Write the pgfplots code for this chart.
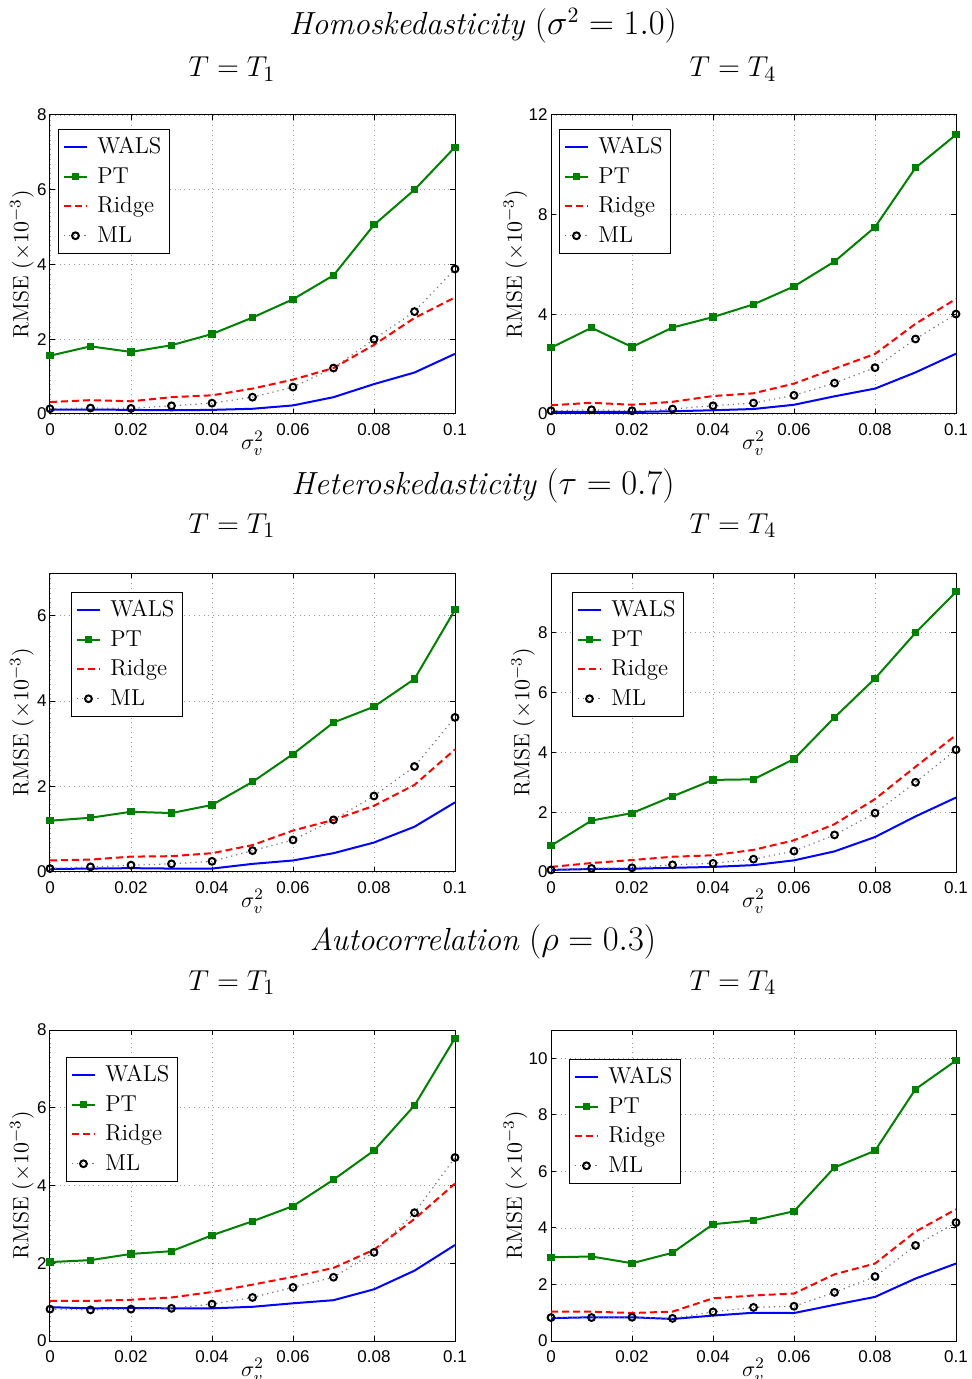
\documentclass[border=0pt]{standalone}
\usepackage{fontspec}
\usepackage{pgfplots}
\pgfplotsset{compat=1.18}
\newfontfamily\helv{Liberation Sans}
\definecolor{mgreen}{rgb}{0,0.5,0}

\pgfplotsset{
  panel/.style={
    scale only axis, width=202.5pt, anchor=north west,
    xmin=0, xmax=0.1, ymin=0, clip=false,
    xtick={0,0.02,0.04,0.06,0.08,0.1},
    xticklabels={0,0.02,0.04,0.06,0.08,0.1},
    scaled x ticks=false,
    grid=major, grid style={dotted, gray!80, line width=0.4pt},
    axis line style={line width=0.5pt},
    tick align=inside, major tick length=2.5pt,
    tick style={black, line width=0.5pt},
    /pgf/number format/assume math mode=true,
    tick label style={font=\helv\fontsize{8.5}{10}\selectfont},
    yticklabel style={inner sep=0pt, anchor=east, xshift=-1.5pt},
    xticklabel style={inner sep=0pt, anchor=north, yshift=-4.5pt},
    xlabel={$\sigma_v^2$},
    xlabel style={at={(axis description cs:0.5,0)}, anchor=north, inner sep=0pt, yshift=-8.5pt,
                  font=\fontsize{11}{13}\selectfont},
    ylabel={RMSE $(\times 10^{-3})$},
    ylabel style={anchor=center, inner sep=0pt, font=\fontsize{11}{13}\selectfont},
    legend cell align=left,
    legend style={at={(rel axis cs:0,1)}, anchor=north west, xshift=4pt, yshift=-7pt,
                  draw=black, line width=0.5pt, fill=white,
                  font=\fontsize{11.5}{13.8}\selectfont,
                  inner xsep=2pt, inner ysep=2pt, row sep=1.3pt, column sep=2.5pt},
    legend image code/.code={\draw[mark repeat=2,mark phase=2] plot coordinates {(0cm,0cm) (0.21cm,0cm) (0.42cm,0cm)};},
  },
  ylab1/.style={ylabel style={at={(axis description cs:-0.069,0.5)}}},
  ylab2/.style={ylabel style={at={(axis description cs:-0.0877,0.5)}}},
  wals/.style={blue, line width=1pt},
  pt/.style={mgreen, line width=1pt, mark=square*, mark size=1.3pt, mark options={solid}},
  ridge/.style={red, line width=1pt, dash pattern=on 3.5pt off 2pt},
  ml/.style={black!55, dotted, line width=0.6pt, mark=o, mark size=1.7pt, mark options={solid, draw=black, line width=1pt}},
}

\begin{document}
\begin{tikzpicture}
\path[use as bounding box] (0,0) rectangle (485.5pt,-689.5pt);

% ---------- titles
\node[anchor=base, font=\fontsize{16}{19}\selectfont] at (241.5pt,-17.5pt) {\textit{Homoskedasticity} $(\sigma^2 = 1.0)$};
\node[anchor=base, font=\fontsize{15.5}{19}\selectfont] at (116pt,-38.5pt) {$T = T_1$};
\node[anchor=base, font=\fontsize{15.5}{19}\selectfont] at (366.5pt,-38.5pt) {$T = T_4$};
\node[anchor=base, font=\fontsize{16}{19}\selectfont] at (241.5pt,-247pt) {\textit{Heteroskedasticity} $(\tau = 0.7)$};
\node[anchor=base, font=\fontsize{15.5}{19}\selectfont] at (116pt,-266.5pt) {$T = T_1$};
\node[anchor=base, font=\fontsize{15.5}{19}\selectfont] at (366.5pt,-266.5pt) {$T = T_4$};
\node[anchor=base, font=\fontsize{16}{19}\selectfont] at (241.5pt,-475pt) {\textit{Autocorrelation} $(\rho = 0.3)$};
\node[anchor=base, font=\fontsize{15.5}{19}\selectfont] at (116pt,-495pt) {$T = T_1$};
\node[anchor=base, font=\fontsize{15.5}{19}\selectfont] at (366.5pt,-495pt) {$T = T_4$};

% ---------- row 1
\begin{axis}[panel, ylab1, at={(25pt,-57.5pt)}, height=149.5pt, ymax=8, ytick={0,2,4,6,8}]
\addplot[wals] coordinates {(0,0.12)(0.01,0.12)(0.02,0.11)(0.03,0.10)(0.04,0.11)(0.05,0.14)(0.06,0.23)(0.07,0.45)(0.08,0.80)(0.09,1.11)(0.1,1.61)};
\addplot[pt] coordinates {(0,1.56)(0.01,1.81)(0.02,1.66)(0.03,1.84)(0.04,2.14)(0.05,2.58)(0.06,3.07)(0.07,3.71)(0.08,5.06)(0.09,6.00)(0.1,7.14)};
\addplot[ridge] coordinates {(0,0.32)(0.01,0.37)(0.02,0.34)(0.03,0.45)(0.04,0.50)(0.05,0.68)(0.06,0.92)(0.07,1.23)(0.08,1.85)(0.09,2.57)(0.1,3.12)};
\addplot[ml] coordinates {(0,0.14)(0.01,0.16)(0.02,0.15)(0.03,0.22)(0.04,0.29)(0.05,0.45)(0.06,0.72)(0.07,1.23)(0.08,2.00)(0.09,2.74)(0.1,3.88)};
\legend{WALS,PT,Ridge,ML}
\end{axis}

\begin{axis}[panel, ylab2, at={(275.5pt,-57.5pt)}, height=149.5pt, ymax=12, ytick={0,4,8,12}]
\addplot[wals] coordinates {(0,0.08)(0.01,0.09)(0.02,0.08)(0.03,0.11)(0.04,0.15)(0.05,0.20)(0.06,0.37)(0.07,0.71)(0.08,1.02)(0.09,1.67)(0.1,2.42)};
\addplot[pt] coordinates {(0,2.66)(0.01,3.46)(0.02,2.69)(0.03,3.47)(0.04,3.89)(0.05,4.40)(0.06,5.12)(0.07,6.12)(0.08,7.50)(0.09,9.88)(0.1,11.21)};
\addplot[ridge] coordinates {(0,0.35)(0.01,0.45)(0.02,0.37)(0.03,0.49)(0.04,0.72)(0.05,0.83)(0.06,1.22)(0.07,1.82)(0.08,2.41)(0.09,3.62)(0.1,4.62)};
\addplot[ml] coordinates {(0,0.13)(0.01,0.17)(0.02,0.13)(0.03,0.20)(0.04,0.33)(0.05,0.44)(0.06,0.75)(0.07,1.24)(0.08,1.86)(0.09,3.01)(0.1,4.01)};
\legend{WALS,PT,Ridge,ML}
\end{axis}

% ---------- row 2
\begin{axis}[panel, ylab1, at={(25pt,-286.5pt)}, height=149.5pt, ymax=7, ytick={0,2,4,6}, legend style={xshift=6.5pt, yshift=-2.5pt}]
\addplot[wals] coordinates {(0,0.07)(0.01,0.08)(0.02,0.09)(0.03,0.08)(0.04,0.08)(0.05,0.19)(0.06,0.27)(0.07,0.44)(0.08,0.69)(0.09,1.06)(0.1,1.63)};
\addplot[pt] coordinates {(0,1.20)(0.01,1.27)(0.02,1.41)(0.03,1.38)(0.04,1.57)(0.05,2.11)(0.06,2.76)(0.07,3.50)(0.08,3.87)(0.09,4.52)(0.1,6.14)};
\addplot[ridge] coordinates {(0,0.27)(0.01,0.29)(0.02,0.36)(0.03,0.37)(0.04,0.44)(0.05,0.63)(0.06,0.97)(0.07,1.22)(0.08,1.55)(0.09,2.04)(0.1,2.87)};
\addplot[ml] coordinates {(0,0.08)(0.01,0.12)(0.02,0.16)(0.03,0.19)(0.04,0.25)(0.05,0.50)(0.06,0.75)(0.07,1.22)(0.08,1.78)(0.09,2.47)(0.1,3.62)};
\legend{WALS,PT,Ridge,ML}
\end{axis}

\begin{axis}[panel, ylab1, at={(275.5pt,-286.5pt)}, height=149.5pt, ymax=10, ytick={0,2,4,6,8}, legend style={xshift=6.5pt, yshift=-2.5pt}]
\addplot[wals] coordinates {(0,0.07)(0.01,0.10)(0.02,0.11)(0.03,0.14)(0.04,0.17)(0.05,0.23)(0.06,0.39)(0.07,0.69)(0.08,1.17)(0.09,1.86)(0.1,2.49)};
\addplot[pt] coordinates {(0,0.88)(0.01,1.72)(0.02,1.97)(0.03,2.53)(0.04,3.08)(0.05,3.10)(0.06,3.78)(0.07,5.17)(0.08,6.47)(0.09,8.00)(0.1,9.37)};
\addplot[ridge] coordinates {(0,0.17)(0.01,0.30)(0.02,0.40)(0.03,0.51)(0.04,0.56)(0.05,0.74)(0.06,1.06)(0.07,1.60)(0.08,2.44)(0.09,3.52)(0.1,4.58)};
\addplot[ml] coordinates {(0,0.07)(0.01,0.12)(0.02,0.14)(0.03,0.24)(0.04,0.29)(0.05,0.43)(0.06,0.70)(0.07,1.24)(0.08,1.97)(0.09,3.00)(0.1,4.09)};
\legend{WALS,PT,Ridge,ML}
\end{axis}

% ---------- row 3
\begin{axis}[panel, ylab1, at={(25pt,-515pt)}, height=155.5pt, ymax=8, ytick={0,2,4,6,8}, legend style={xshift=4pt, yshift=-6.5pt}]
\addplot[wals] coordinates {(0,0.87)(0.01,0.84)(0.02,0.85)(0.03,0.84)(0.04,0.84)(0.05,0.88)(0.06,0.97)(0.07,1.05)(0.08,1.33)(0.09,1.81)(0.1,2.47)};
\addplot[pt] coordinates {(0,2.03)(0.01,2.08)(0.02,2.24)(0.03,2.31)(0.04,2.72)(0.05,3.08)(0.06,3.47)(0.07,4.15)(0.08,4.90)(0.09,6.06)(0.1,7.79)};
\addplot[ridge] coordinates {(0,1.03)(0.01,1.03)(0.02,1.06)(0.03,1.12)(0.04,1.26)(0.05,1.45)(0.06,1.65)(0.07,1.88)(0.08,2.35)(0.09,3.14)(0.1,4.05)};
\addplot[ml] coordinates {(0,0.82)(0.01,0.80)(0.02,0.82)(0.03,0.84)(0.04,0.95)(0.05,1.12)(0.06,1.38)(0.07,1.64)(0.08,2.28)(0.09,3.30)(0.1,4.72)};
\legend{WALS,PT,Ridge,ML}
\end{axis}

\begin{axis}[panel, ylab2, at={(275.5pt,-515pt)}, height=155.5pt, ymax=11, ytick={0,2,4,6,8,10}, legend style={xshift=5pt, yshift=-7.5pt}]
\addplot[wals] coordinates {(0,0.81)(0.01,0.84)(0.02,0.84)(0.03,0.78)(0.04,0.90)(0.05,1.00)(0.06,0.99)(0.07,1.28)(0.08,1.56)(0.09,2.21)(0.1,2.74)};
\addplot[pt] coordinates {(0,2.96)(0.01,2.99)(0.02,2.75)(0.03,3.12)(0.04,4.13)(0.05,4.27)(0.06,4.59)(0.07,6.14)(0.08,6.73)(0.09,8.91)(0.1,9.92)};
\addplot[ridge] coordinates {(0,1.04)(0.01,1.04)(0.02,0.99)(0.03,1.04)(0.04,1.51)(0.05,1.61)(0.06,1.68)(0.07,2.36)(0.08,2.74)(0.09,3.87)(0.1,4.66)};
\addplot[ml] coordinates {(0,0.83)(0.01,0.83)(0.02,0.84)(0.03,0.80)(0.04,1.03)(0.05,1.19)(0.06,1.23)(0.07,1.72)(0.08,2.28)(0.09,3.38)(0.1,4.19)};
\legend{WALS,PT,Ridge,ML}
\end{axis}
\end{tikzpicture}
\end{document}
